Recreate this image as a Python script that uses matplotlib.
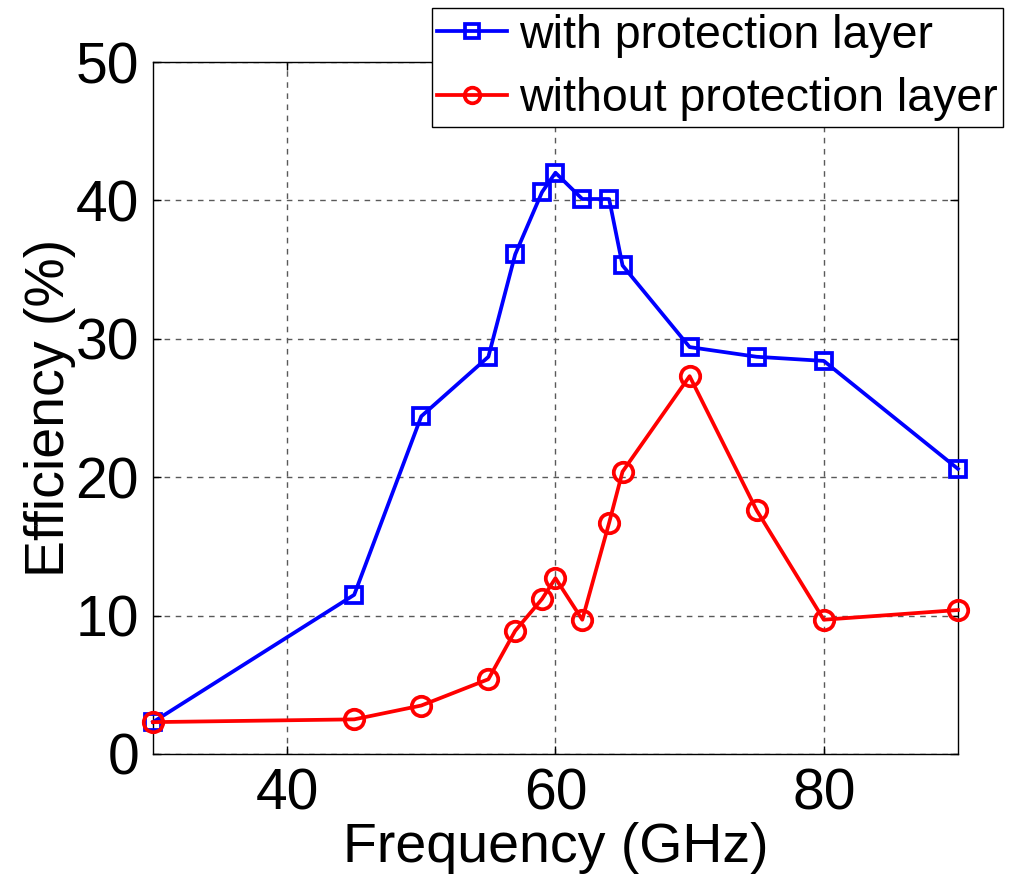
import matplotlib
matplotlib.use('Agg')
import matplotlib.pyplot as plt

plt.rcParams['font.family'] = ['Liberation Sans', 'DejaVu Sans']

freq = [30, 45, 50, 55, 57, 59, 60, 62, 64, 65, 70, 75, 80, 90]
eff_with = [2.3, 11.5, 24.4, 28.7, 36.1, 40.6, 42.0, 40.1, 40.1, 35.3, 29.4, 28.7, 28.4, 20.6]
eff_without = [2.3, 2.5, 3.5, 5.4, 8.9, 11.2, 12.7, 9.7, 16.7, 20.4, 27.3, 17.6, 9.7, 10.4]

fig = plt.figure(figsize=(10.09, 8.77), dpi=100)
ax = fig.add_axes([0.1516, 0.1403, 0.7978, 0.789])

ax.plot(freq, eff_with, color='blue', lw=2.7, marker='s', ms=12, mfc='none',
        mew=2.7, label='with protection layer', clip_on=False, zorder=3)
ax.plot(freq, eff_without, color='red', lw=2.7, marker='o', ms=14, mfc='none',
        mew=2.7, label='without protection layer', clip_on=False, zorder=4)

ax.set_xlim(30, 90)
ax.set_ylim(0, 50)
ax.set_xticks([40, 60, 80])
ax.set_yticks([0, 10, 20, 30, 40, 50])
ax.tick_params(direction='in', labelsize=41, length=6, width=1, pad=10,
               top=True, right=True)
ax.grid(True, color='0.35', linestyle=(0, (4, 4)), linewidth=1)
for s in ax.spines.values():
    s.set_linewidth(1)

ax.set_xlabel('Frequency (GHz)', fontsize=40, labelpad=0)
ax.set_ylabel('Efficiency (%)', fontsize=40, labelpad=0)

leg = ax.legend(loc='upper right', bbox_to_anchor=(1003 / 1009, 1 - 8 / 877),
                bbox_transform=fig.transFigure, fontsize=33.5, frameon=True,
                fancybox=False, borderaxespad=0, handlelength=1.5,
                handletextpad=0.25, borderpad=0.12, labelspacing=0.42,
                markerscale=0.8)
leg.get_frame().set_edgecolor('black')
leg.get_frame().set_linewidth(1)
leg.get_frame().set_alpha(1)
leg.set_zorder(10)

fig.savefig('out.png', dpi=100)
